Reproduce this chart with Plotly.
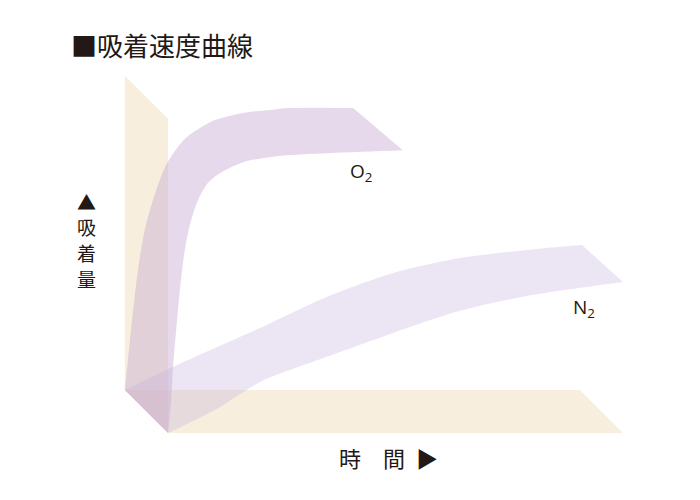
import plotly.graph_objects as go

# schematic units: time along x, adsorbed amount along y, 0 at the front corner
depth = (-9.5, 13.3)      # shift from the front edge to the back edge of the panels
wall_height = 97
floor_length = 100

# O2 ribbon (front = lower/inner edge, back = upper/outer edge)
o2_front_t = [0, 0.7, 1.1, 1.8, 2.4, 3.1, 3.7, 4.8, 6.6, 8.8, 11.4, 16.5, 21.3, 26.8, 51.6]
o2_front_a = [0, 10.2, 20.4, 31.8, 41.0, 50.3, 56.5, 64.2, 71.9, 77.2, 80.2, 83.6, 84.9, 85.8, 87.3]
o2_back_t = [-9.5, -8.8, -7.9, -6.6, -5.1, -3.3, -1.8, -0.2, 2.0, 4.2, 7.0, 10.3, 16.5, 22.4, 26.8, 40.7]
o2_back_a = [13.3, 22.5, 34.9, 50.3, 62.7, 71.9, 78.1, 83.3, 88.0, 91.4, 94.1, 96.6, 98.8, 99.7, 100.3, 100.3]

# N2 ribbon
n2_front_t = [0, 10.3, 20.2, 34.9, 49.5, 64.2, 78.9, 100]
n2_front_a = [0, 7.1, 15.7, 23.5, 30.9, 37.7, 42.3, 46.6]
n2_back_t = [-9.5, 1.1, 20.2, 34.9, 49.5, 64.2, 78.9, 91.0]
n2_back_a = [13.3, 20.4, 32.4, 42.0, 49.4, 54.0, 56.5, 58.0]

y_label = ["▲", "吸", "着", "量"]

panel_color = "rgba(232,205,160,0.35)"
o2_color = "rgba(200,170,210,0.45)"
n2_color = "rgba(200,180,220,0.35)"
text_color = "#231815"
jp_font = "Noto Sans CJK JP"

# the page puts the plot 8px in from the window corner
OFF = 8


def px(x, y):
    return dict(x=(x - OFF) / 700, y=1 - (y - OFF) / 500, xref="paper", yref="paper")


def ribbon(fig, front_t, front_a, back_t, back_a, color):
    edge = dict(mode="lines", line=dict(width=0, shape="spline", smoothing=0.8),
                hoverinfo="skip", showlegend=False)
    fig.add_trace(go.Scatter(x=front_t, y=front_a, **edge))
    fig.add_trace(go.Scatter(x=back_t, y=back_a, fill="tonexty", fillcolor=color, **edge))


dx, dy = depth
wall_t = [0, 0, dx, dx]
wall_a = [0, wall_height, wall_height + dy, dy]
floor_t = [0, floor_length, floor_length + dx, dx]
floor_a = [0, 0, dy, dy]

fig = go.Figure()
for xs, ys in [(wall_t, wall_a), (floor_t, floor_a)]:
    fig.add_trace(go.Scatter(x=xs, y=ys, mode="lines", fill="toself", fillcolor=panel_color,
                             line=dict(width=0), hoverinfo="skip", showlegend=False))
ribbon(fig, n2_front_t, n2_front_a, n2_back_t, n2_back_a, n2_color)
ribbon(fig, o2_front_t, o2_front_a, o2_back_t, o2_back_a, o2_color)

fig.add_annotation(text="■吸着速度曲線", **px(69, 45), xanchor="left", yanchor="middle",
                   showarrow=False, font=dict(family=jp_font, size=26, color=text_color))
for i, ch in enumerate(y_label):
    fig.add_annotation(text=ch, **px(86, 201 + i * 25.7), xanchor="center", yanchor="middle",
                       showarrow=False, borderpad=0,
                       font=dict(family=jp_font, size=19, color=text_color))
fig.add_annotation(text="時　間\u2002▶", **px(337, 457), xanchor="left", yanchor="middle",
                   showarrow=False, font=dict(family=jp_font, size=22, color=text_color))
fig.add_annotation(text="O<sub>2</sub>", **px(361, 172), xanchor="center", yanchor="middle",
                   showarrow=False, font=dict(family="Open Sans", size=19, color=text_color))
fig.add_annotation(text="N<sub>2</sub>", **px(584, 308), xanchor="center", yanchor="middle",
                   showarrow=False, font=dict(family="Open Sans", size=19, color=text_color))

# axis ranges chosen so that the figure lines up with the 700x500 window
sx, sy = 4.55, 3.24          # px per unit
x0, y0 = 168, 433            # window px of the front corner
fig.update_layout(
    width=700, height=500,
    margin=dict(l=0, r=0, t=0, b=0),
    paper_bgcolor="white", plot_bgcolor="white",
    xaxis=dict(range=[(OFF - x0) / sx, (OFF + 700 - x0) / sx], visible=False, fixedrange=True),
    yaxis=dict(range=[(y0 - OFF - 500) / sy, (y0 - OFF) / sy], visible=False, fixedrange=True),
)

fig.write_html("out.html")
